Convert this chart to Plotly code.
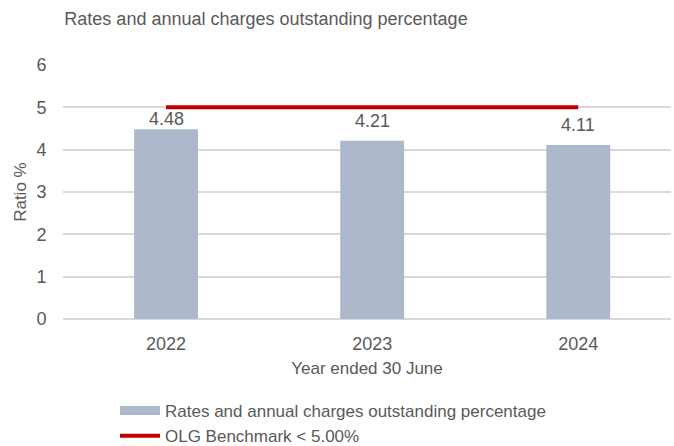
import plotly.graph_objects as go

# Chart data
years = ["2022", "2023", "2024"]
ratio_pct = [4.48, 4.21, 4.11]
benchmark = [5.0, 5.0, 5.0]
label_shift = [-2, 8, 8]  # extra lift for value labels (px)

BAR_COLOR = "#ADB9CA"
LINE_COLOR = "#C00000"
TEXT = "#595959"
GRID = "#D9D9D9"
FONT = "Liberation Sans, Arial, sans-serif"

fig = go.Figure()

fig.add_trace(go.Bar(
    x=years, y=ratio_pct, width=0.31,
    marker=dict(color=BAR_COLOR, line=dict(width=0)),
    showlegend=False, hoverinfo="x+y",
))

# Legend swatch for the bars (wide rectangle)
fig.add_trace(go.Scatter(
    x=[None], y=[None], mode="lines",
    line=dict(color=BAR_COLOR, width=9),
    name="Rates and annual charges outstanding percentage",
))

fig.add_trace(go.Scatter(
    x=years, y=benchmark, mode="lines",
    line=dict(color=LINE_COLOR, width=4),
    name="OLG Benchmark < 5.00%",
))

# Value labels above each bar (category index on the x axis)
for i, (v, s) in enumerate(zip(ratio_pct, label_shift)):
    fig.add_annotation(
        x=i, y=v, xref="x", yref="y", text=f"{v:.2f}", showarrow=False,
        yanchor="bottom", yshift=s,
        font=dict(size=18, color=TEXT, family=FONT),
    )

# Vertical axis title
fig.add_annotation(
    x=-0.071, y=0.5, xref="paper", yref="paper", text="Ratio %",
    textangle=-90, showarrow=False, xanchor="center", yanchor="middle",
    font=dict(size=17, color=TEXT, family=FONT),
)

fig.update_layout(
    width=674, height=446,
    margin=dict(l=63, r=3, t=65, b=127, autoexpand=False),
    paper_bgcolor="white", plot_bgcolor="white",
    font=dict(family=FONT, color=TEXT, size=18),
    title=dict(
        text="Rates and annual charges outstanding percentage",
        x=266 / 674, xanchor="center", xref="container",
        y=1 - 19 / 446, yanchor="middle", yref="container",
        font=dict(size=18, color=TEXT, family=FONT),
    ),
    xaxis=dict(
        type="category", range=[-0.5, 2.45],
        showgrid=False, showline=False, tickangle=0,
        ticks="outside", ticklen=8, tickcolor="rgba(0,0,0,0)",
        tickfont=dict(size=18, color=TEXT),
        title=dict(text="Year ended 30 June", font=dict(size=17, color=TEXT), standoff=9),
    ),
    yaxis=dict(
        range=[0, 6], dtick=1, showgrid=True, gridcolor=GRID, gridwidth=1.5,
        zeroline=True, zerolinecolor=GRID, zerolinewidth=1.5, showline=False,
        ticks="outside", ticklen=12, tickcolor="rgba(0,0,0,0)",
        tickfont=dict(size=18, color=TEXT),
    ),
    legend=dict(
        x=115 / 674, xref="container", xanchor="left",
        y=1 - 393 / 446, yref="container", yanchor="top",
        font=dict(size=17, color=TEXT), itemwidth=40,
        tracegroupgap=0, bgcolor="rgba(0,0,0,0)",
    ),
    showlegend=True,
)

fig.write_html("out.html")
